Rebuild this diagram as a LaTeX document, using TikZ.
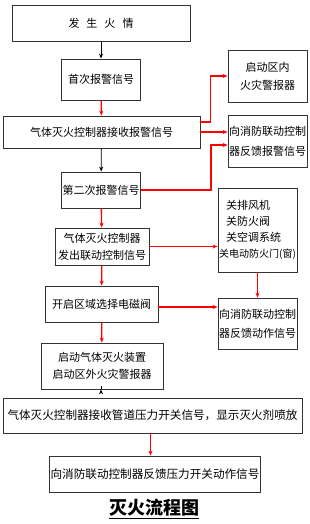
\documentclass[tikz,border=0pt]{standalone}
\usepackage{fontspec}
\setmainfont{Noto Sans CJK SC}
\usetikzlibrary{positioning,arrows.meta}

\begin{document}
\begin{tikzpicture}[x=1pt, y=-1pt,
    box/.style={draw=black!80, line width=0.8pt, inner sep=1pt, align=center,
      font=\fontsize{11}{17}\selectfont},
    redarr/.style={-{Stealth[length=5pt,width=4pt]}, red, line width=1.3pt},
    blkarr/.style={-{Stealth[length=5pt,width=4pt]}, black, line width=0.8pt}]
  \useasboundingbox (0,0) rectangle (310,524);

  % Main column
  \node[box, minimum width=178pt, minimum height=36pt] (fire) at (101,23) {发\hspace{7pt}生\hspace{7pt}火\hspace{7pt}情};
  \node[box, minimum width=79pt, minimum height=41pt] (first) at (101,79.5) {首次报警信号};
  \node[box, minimum width=197pt, minimum height=32pt] (recv) at (101.5,132) {气体灭火控制器接收报警信号};
  \node[box, minimum width=79pt, minimum height=36pt] (second) at (101,190) {第二次报警信号};
  \node[box, minimum width=94pt, minimum height=37pt] (ctrl) at (102,246.5) {气体灭火控制器\\发出联动控制信号};
  \node[box, minimum width=113pt, minimum height=36pt] (valve) at (101.5,304) {开启区域选择电磁阀};
  \node[box, minimum width=122pt, minimum height=46pt] (start) at (102,366) {启动气体灭火装置\\启动区外火灾警报器};
  \node[box, minimum width=299pt, minimum height=35pt, font=\fontsize{11.6}{17}\selectfont] (pipe) at (152.5,415.5) {气体灭火控制器接收管道压力开关信号，显示灭火剂喷放};
  \node[box, minimum width=210pt, minimum height=36pt, font=\fontsize{11.6}{17}\selectfont] (fbpress) at (155,474) {向消防联动控制器反馈压力开关动作信号};

  % Right column
  \node[box, minimum width=79pt, minimum height=52pt, font=\fontsize{11}{18}\selectfont] (alarmin) at (267.5,76) {启动区内\\火灾警报器};
  \node[box, minimum width=79pt, minimum height=52pt, font=\fontsize{11}{20}\selectfont] (fbalarm) at (267.5,141) {向消防联动控制\\器反馈报警信号};
  \node[box, minimum width=79pt, minimum height=84pt, align=left, font=\fontsize{11}{16}\selectfont] (close) at (257.5,230)
    {\hspace{7pt}关排风机\\\hspace{7pt}关防火阀\\\hspace{7pt}关空调系统\\{\fontsize{10}{16}\selectfont 关电动防火门(窗)}};
  \node[box, minimum width=79pt, minimum height=51pt, font=\fontsize{11}{19}\selectfont] (fbact) at (257.5,323.5) {向消防联动控制\\器反馈动作信号};

  % Title
  \node (title) at (154,509) {\fontsize{18}{20}\selectfont\bfseries\underline{灭火流程图}};

  % Arrows down the main column
  \draw[blkarr] (fire) -- (first);
  \draw[redarr] (first) -- (recv);
  \draw[blkarr] (recv) -- (second);
  \draw[redarr] (second) -- (ctrl);
  \draw[redarr] (ctrl) -- (valve);
  \draw[redarr] (valve) -- (start);
  \draw[blkarr] (start.south -| first) -- (start.south -| first |- pipe.north);
  \draw[redarr] ([xshift=-2pt]pipe.south) -- ([xshift=-2pt]pipe.south |- fbpress.north);

  % Arrows to the right column
  \draw[redarr] ([yshift=10pt]recv.east) -- ++(10,0) |- (alarmin.west);
  \draw[redarr] (recv.east) -- (recv.east -| fbalarm.west);
  \draw[redarr] (second.east) -- ++(70,0) |- ([yshift=-4pt]fbalarm.west);
  \draw[redarr] (ctrl.east) -- (ctrl.east -| close.west);
  \draw[redarr] (close) -- (fbact);
  \draw[redarr] ([yshift=-3pt]valve.east) -- ([yshift=-3pt]valve.east -| fbact.west);
\end{tikzpicture}
\end{document}
